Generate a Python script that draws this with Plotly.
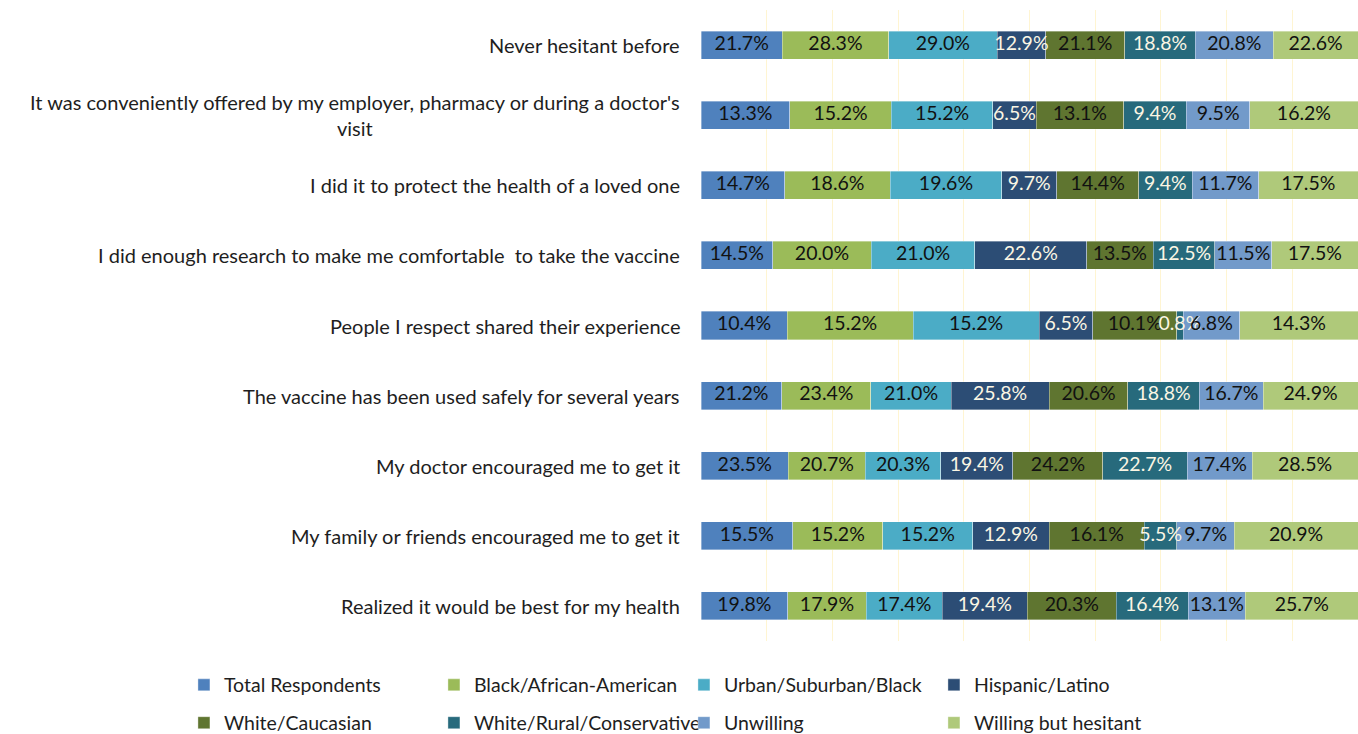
import plotly.graph_objects as go

# Reasons for getting vaccinated, by respondent group (values in %)
categories = [
    "Never hesitant before",
    "It was conveniently offered by my employer, pharmacy or during a doctor's<br>visit",
    "I did it to protect the health of a loved one",
    "I did enough research to make me comfortable  to take the vaccine",
    "People I respect shared their experience",
    "The vaccine has been used safely for several years",
    "My doctor encouraged me to get it",
    "My family or friends encouraged me to get it",
    "Realized it would be best for my health",
]

series_names = [
    "Total Respondents",
    "Black/African-American",
    "Urban/Suburban/Black",
    "Hispanic/Latino",
    "White/Caucasian",
    "White/Rural/Conservative",
    "Unwilling",
    "Willing but hesitant",
]

total_respondents = [21.7, 13.3, 14.7, 14.5, 10.4, 21.2, 23.5, 15.5, 19.8]
black_african_american = [28.3, 15.2, 18.6, 20.0, 15.2, 23.4, 20.7, 15.2, 17.9]
urban_suburban_black = [29.0, 15.2, 19.6, 21.0, 15.2, 21.0, 20.3, 15.2, 17.4]
hispanic_latino = [12.9, 6.5, 9.7, 22.6, 6.5, 25.8, 19.4, 12.9, 19.4]
white_caucasian = [21.1, 13.1, 14.4, 13.5, 10.1, 20.6, 24.2, 16.1, 20.3]
white_rural_conservative = [18.8, 9.4, 9.4, 12.5, 0.8, 18.8, 22.7, 5.5, 16.4]
unwilling = [20.8, 9.5, 11.7, 11.5, 6.8, 16.7, 17.4, 9.7, 13.1]
willing_but_hesitant = [22.6, 16.2, 17.5, 17.5, 14.3, 24.9, 28.5, 20.9, 25.7]

series_values = [
    total_respondents,
    black_african_american,
    urban_suburban_black,
    hispanic_latino,
    white_caucasian,
    white_rural_conservative,
    unwilling,
    willing_but_hesitant,
]

colors = ["#4F81BD", "#9BBB59", "#4BACC6", "#2C4D75",
          "#5F7530", "#276A7C", "#729ACA", "#AFC97A"]
label_colors = ["#111111", "#111111", "#111111", "#FBF6E4",
                "#111111", "#FBF6E4", "#111111", "#111111"]

FONT = "Lato"
FS_LABEL = 19.5
FS_TEXT = 20
FS_LEGEND = 19.5

fig = go.Figure()
for i, (name, vals) in enumerate(zip(series_names, series_values)):
    fig.add_trace(go.Bar(
        name=name,
        y=categories,
        x=vals,
        orientation="h",
        marker=dict(color=colors[i], line=dict(color="rgba(255,255,255,0.6)", width=0.6)),
        hoverinfo="name+x",
        legend="legend" if i < 4 else "legend2",
    ))

# Value labels sit on top of every segment (centred on each segment of the
# 100%-normalised stack), so a narrow segment's label may spill over its neighbours.
row_totals = [sum(col) for col in zip(*series_values)]
lab_x, lab_y, lab_text, lab_color = [], [], [], []
running = [0.0] * len(categories)
for i, vals in enumerate(series_values):
    for j, v in enumerate(vals):
        lab_x.append((running[j] + v / 2) / row_totals[j] * 100)
        lab_y.append(categories[j])
        lab_text.append(f"{v:.1f}%")
        lab_color.append(label_colors[i])
        running[j] += v

fig.add_trace(go.Scatter(
    x=lab_x, y=lab_y, text=lab_text,
    mode="text",
    textposition="middle center",
    textfont=dict(family=FONT, size=FS_LABEL, color=lab_color),
    hoverinfo="skip",
    showlegend=False,
    cliponaxis=False,
))

# Category labels, right-aligned against the plot with centred line breaks
for cat in categories:
    fig.add_annotation(
        x=0, xref="paper", y=cat, yref="y",
        text=cat, showarrow=False,
        xanchor="right", yanchor="middle", align="center",
        xshift=-19,
        font=dict(family=FONT, size=FS_TEXT, color="#1E1E1E"),
    )

legend_common = dict(
    orientation="h",
    traceorder="normal",
    xanchor="left",
    yanchor="middle",
    font=dict(family=FONT, size=FS_LEGEND, color="#1E1E1E"),
    entrywidth=205,
    entrywidthmode="pixels",
    itemwidth=30,
    bgcolor="rgba(0,0,0,0)",
)

fig.update_layout(
    width=1358,
    height=734,
    margin=dict(l=701, r=0, t=10, b=93, autoexpand=False),
    paper_bgcolor="white",
    plot_bgcolor="white",
    barmode="stack",
    barnorm="percent",
    bargap=0.6,
    font=dict(family=FONT, size=FS_TEXT, color="#1E1E1E"),
    legend=dict(x=-0.787, y=-0.07, **legend_common),
    legend2=dict(x=-0.787, y=-0.13, **legend_common),
    xaxis=dict(
        range=[0, 100],
        dtick=10,
        showgrid=True,
        gridcolor="#FFF5D2",
        gridwidth=1.3,
        showticklabels=False,
        zeroline=False,
        showline=False,
        fixedrange=True,
    ),
    yaxis=dict(
        autorange="reversed",
        showticklabels=False,
        showgrid=False,
        zeroline=False,
        showline=False,
        fixedrange=True,
    ),
)

fig.write_html("out.html", include_plotlyjs=True, config={"displayModeBar": False})
